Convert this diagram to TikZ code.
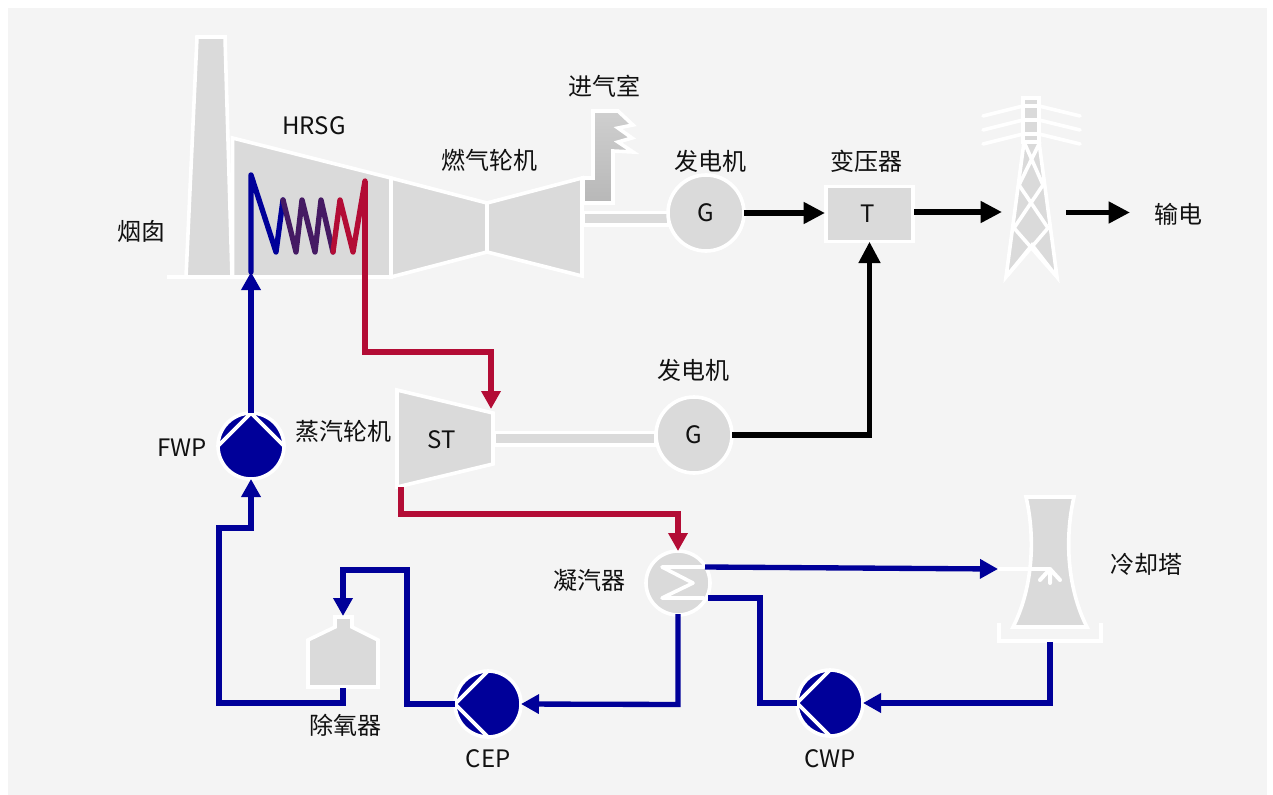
\documentclass[tikz,border=0pt]{standalone}
\usepackage{fontspec}
\setmainfont{Noto Sans CJK SC}
\usetikzlibrary{arrows.meta,calc}
\definecolor{panelbg}{HTML}{F4F4F4}
\definecolor{unitgrey}{HTML}{DADADA}
\definecolor{pipeblue}{HTML}{000099}
\definecolor{pipered}{HTML}{B30C35}
\definecolor{pipepurple}{HTML}{451A63}
\definecolor{inkblack}{HTML}{111111}
\tikzset{
  unit/.style={draw=white,fill=unitgrey,line width=2.7pt,line join=miter},
  whiteln/.style={draw=white,line width=2.7pt},
  gen/.style={circle,unit,minimum size=57pt,inner sep=0pt,outer sep=0pt,text=inkblack},
  pumpnode/.style={circle,draw=white,fill=pipeblue,line width=2.7pt,minimum size=49.5pt,inner sep=0pt,outer sep=0pt},
  lbl/.style={text=inkblack,inner sep=0pt,font=\fontsize{18pt}{20pt}\selectfont},
  bluepipe/.style={draw=pipeblue,line width=4pt,line join=miter},
  redpipe/.style={draw=pipered,line width=4pt,line join=miter},
  blackpipe/.style={draw=black,line width=4pt,line join=miter},
  tipbig/.style={-{Triangle[length=16pt,width=15.5pt]}},
  tipmid/.style={-{Triangle[length=13.5pt,width=14pt]}},
  coil/.style={line width=4pt,line join=round,line cap=round}
}
\begin{document}
\begin{tikzpicture}[x=0.75pt,y=-0.75pt,every node/.append style={font=\fontsize{18pt}{20pt}\selectfont}]
\useasboundingbox (0,0) rectangle (1273,795);
\fill[white] (0,0) rectangle (1273,795);
\fill[panelbg] (8,8) rectangle (1267,795);

% chimney, HRSG, gas turbine
\path[unit] (197,37) -- (225,37) -- (232,277) -- (186,277) -- cycle;
\path[unit] (232.5,138) -- (391,178) -- (391,277) -- (232.5,277) -- cycle;
\path[unit] (391,178) -- (487,203) -- (487,252) -- (391,277) -- cycle;
% inlet room
\draw[draw=white,line width=2.7pt,top color=unitgrey!95!black,bottom color=black!28]
  (593,111) -- (618,111) -- (633,125) -- (618,128) -- (632,138) -- (618,142) -- (633,152)
  -- (613,151) -- (613,203) -- (583,203) -- (583,178) -- (593,178) -- cycle;
\path[unit] (487,203) -- (582,178) -- (582,276) -- (487,252) -- cycle;
\draw[whiteln] (167,277) -- (391,277);

% shafts
\path[unit] (583,212.5) rectangle (669,225);
\path[unit] (494,432.5) rectangle (656,445);

% machines
\node[gen] (g1) at (706,213) {G};
\node[gen] (g2) at (694,435) {G};
\node[rectangle,unit,minimum width=65pt,minimum height=41.5pt,inner sep=0pt,outer sep=0pt] (tr) at (869.5,214) {};
\node[lbl] (trlabel) at (867.5,214) {T};

% steam turbine
\path[unit] (397,390) -- (493,413) -- (493,464) -- (397,487) -- cycle;
\node[lbl] (stlabel) at (442,440) {ST};

% transmission tower
\fill[unitgrey] (1023,98) rectangle (1039,142);
\path[unit] (1024,142) -- (1039,142) -- (1057,277) -- (1032,245) -- (1006,277) -- cycle;
\draw[whiteln,line cap=round] (1023,98) -- (1039,98) -- (1039,142) -- (1023,142) -- cycle;
\draw[whiteln] (1023,106) -- (1039,106) (1023,120) -- (1039,120) (1023,134) -- (1039,134);
\draw[whiteln,line cap=round]
  (983,116) -- (1023,106) (1039,106) -- (1080,116)
  (983,130) -- (1023,120) (1039,120) -- (1080,130)
  (983,144) -- (1023,134) (1039,134) -- (1080,144);
\draw[whiteln] (1024,142) -- (1043,185) -- (1014,228) -- (1057,277)
  (1040,142) -- (1019,185) -- (1048,228) -- (1006,277);

% cooling tower
\path[unit] (1026,497) -- (1074,497) .. controls (1064,540) and (1068,590) .. (1087,627)
  -- (1013,627) .. controls (1032,590) and (1036,540) .. (1026,497) -- cycle;
\draw[whiteln] (999,623) -- (999,641) -- (1101,641) -- (1101,623);
\coordinate (ctin) at (998,569);
\coordinate (spray) at (1050,569);
\draw[whiteln] (ctin) -- (spray);
\draw[whiteln,line width=3pt,line cap=round] (spray) -- (1040,580) (spray) -- (1050,583) (spray) -- (1060,580);

% condenser
\node[circle,unit,minimum size=48pt,inner sep=0pt,outer sep=0pt] (cond) at (678,583) {};
\draw[whiteln,line cap=round,line join=round] (704,567) -- (662,567) -- (693,583) -- (662,598) -- (704,598);

% deaerator
\path[unit] (335,617) -- (352,617) -- (352,627) -- (378,640) -- (378,687) -- (308,687) -- (308,640) -- (335,627) -- cycle;

% pumps
\node[pumpnode] (fwp) at (251,446) {};
\node[pumpnode] (cep) at (488,704) {};
\node[pumpnode] (cwp) at (830,703) {};
\draw[whiteln] (fwp.west) -- (fwp.north) -- (fwp.east);
\draw[whiteln] (cep.north) -- (cep.west) -- (cep.south);
\draw[whiteln] (cwp.north) -- (cwp.west) -- (cwp.south);

% port coordinates
\coordinate (stin) at (491,409);
\coordinate (stout) at (401,487);
\coordinate (condin) at (678,551);
\coordinate (condout) at (678,614);
\coordinate (condhot) at (705,567);
\coordinate (condcold) at (708,598);
\coordinate (ctout) at (1050,642);
\coordinate (deain) at (343,616);
\coordinate (deaout) at (343,688);
\coordinate (hrsgin) at (251,272);
\coordinate (trin) at (825,213);
\coordinate (trout) at (914,212);
\coordinate (towerin) at (1002,212);
\coordinate (towerout) at (1066,212.5);
\coordinate (gridout) at (1130,212.5);

% heating coil
\coordinate (c0) at (251,272);
\coordinate (c1) at (283,200);
\coordinate (c2) at (333,252);
\coordinate (c3) at (365,181);
\draw[coil,draw=pipeblue] (c0) -- (251,175) -- (276,252) -- (c1);
\draw[coil,draw=pipepurple] (c1) -- (296,252) -- (302,200) -- (315,252) -- (321,200) -- (c2);
\draw[coil,draw=pipered] (c2) -- (340,200) -- (353,252) -- (c3);

% pipes
\draw[bluepipe,tipmid] (fwp.north) -- (hrsgin);
\draw[redpipe,tipmid] (c3) -- (365,352) -- (491,352) -- (stin);
\draw[redpipe,tipmid] (stout) -- (401,514) -- (678,514) -- (condin);
\draw[bluepipe,tipmid] (condhot) -- (ctin);
\draw[bluepipe] (condcold) -- (760,598) -- (760,703) -- (cwp.west);
\draw[bluepipe,tipmid] (ctout) -- (1050,703) -- (cwp.east);
\draw[bluepipe,tipmid] (condout) -- (678,704.5) -- (cep.east);
\draw[bluepipe,tipmid] (cep.west) -- (407,704) -- (407,570) -- (343,570) -- (deain);
\draw[bluepipe,tipmid] (deaout) -- (343,703) -- (219,703) -- (219,528) -- (251,528) -- (fwp.south);
\draw[blackpipe,tipbig] (g1.east) -- (trin);
\draw[blackpipe,tipbig] (trout) -- (towerin);
\draw[blackpipe,tipbig] (towerout) -- (gridout);
\draw[blackpipe,tipbig] (g2.east) -- (tr.south |- g2.east) -- (tr.south);

% labels
\node[lbl] (l1) at (604,86) {进气室};
\node[lbl] (l2) at (314,126) {HRSG};
\node[lbl] (l3) at (489,160) {燃气轮机};
\node[lbl] (l4) at (710,161) {发电机};
\node[lbl] (l5) at (866,161) {变压器};
\node[lbl] (l6) at (141,231) {烟囱};
\node[lbl] (l7) at (1178,214) {输电};
\node[lbl] (l8) at (693,370) {发电机};
\node[lbl] (l9) at (343,431) {蒸汽轮机};
\node[lbl] (l10) at (182,448) {FWP};
\node[lbl] (l11) at (589,580) {凝汽器};
\node[lbl] (l12) at (1146,564) {冷却塔};
\node[lbl] (l13) at (345,725) {除氧器};
\node[lbl] (l14) at (488,759) {CEP};
\node[lbl] (l15) at (830,759) {CWP};
\end{tikzpicture}
\end{document}
